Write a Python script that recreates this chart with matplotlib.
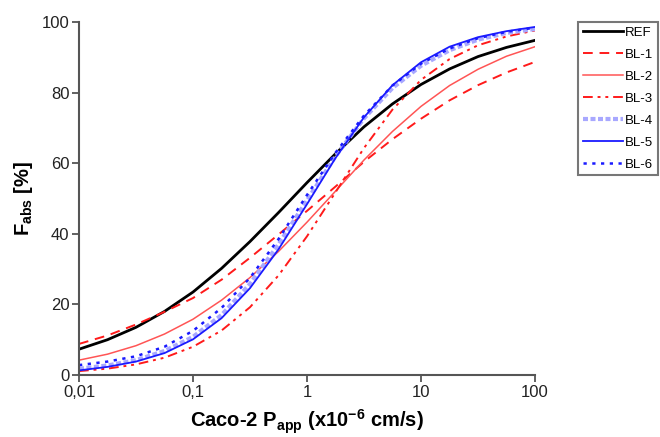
import matplotlib
matplotlib.use("Agg")
import matplotlib.pyplot as plt
from matplotlib.ticker import FixedLocator, NullLocator

plt.rcParams['font.family'] = ['Liberation Sans', 'DejaVu Sans']
plt.rcParams['mathtext.fontset'] = 'custom'
plt.rcParams['mathtext.rm'] = 'Liberation Sans:bold'
plt.rcParams['mathtext.bf'] = 'Liberation Sans:bold'
plt.rcParams['mathtext.it'] = 'Liberation Sans:bold'

# Caco-2 Papp (x1e-6 cm/s), quarter-decade points
papp = [0.01, 0.0178, 0.0316, 0.0562, 0.1, 0.178, 0.316, 0.562, 1.0,
        1.78, 3.16, 5.62, 10.0, 17.8, 31.6, 56.2, 100.0]

ref  = [7.3, 10.0, 13.5, 18.0, 23.5, 30.2, 37.8, 46.0, 54.5, 62.7, 70.3, 76.8, 82.3, 86.7, 90.2, 92.8, 94.8]
bl1  = [8.8, 11.2, 14.3, 17.9, 21.8, 27.0, 33.2, 39.8, 46.5, 53.4, 60.4, 66.8, 72.6, 77.8, 82.1, 85.7, 88.7]
bl2  = [4.2, 5.9, 8.3, 11.6, 15.8, 21.2, 27.6, 35.0, 43.3, 52.1, 60.9, 69.0, 76.1, 82.0, 86.6, 90.3, 93.0]
bl3  = [1.1, 1.8, 3.0, 4.9, 8.0, 12.6, 19.2, 28.2, 39.3, 51.8, 64.3, 75.2, 83.6, 89.5, 93.4, 95.9, 97.6]
bl4  = [1.8, 2.7, 4.2, 6.8, 10.8, 17.0, 25.8, 37.0, 49.5, 62.0, 72.7, 81.3, 87.6, 92.0, 95.0, 96.9, 98.0]
bl5  = [1.3, 2.3, 3.8, 6.2, 10.1, 16.1, 24.6, 35.6, 48.4, 61.5, 73.0, 82.1, 88.6, 93.0, 95.7, 97.4, 98.6]
bl6  = [2.8, 3.8, 5.3, 8.0, 12.5, 19.0, 27.5, 38.5, 51.0, 63.0, 73.5, 82.0, 88.2, 92.5, 95.4, 97.2, 98.4]

series_labels = ['REF', 'BL-1', 'BL-2', 'BL-3', 'BL-4', 'BL-5', 'BL-6']
x_ticks = [0.01, 0.1, 1, 10, 100]
x_ticklabels = ['0,01', '0,1', '1', '10', '100']
y_ticks = [0, 20, 40, 60, 80, 100]

fig = plt.figure(figsize=(6.6, 4.37), dpi=100)
ax = fig.add_axes([0.1197, 0.1419, 0.691, 0.8078])

styles = [
    dict(color='black', lw=2.0, ls='-'),
    dict(color='#ff1a1a', lw=1.4, ls=(0, (5, 3.5))),
    dict(color='#ff5555', lw=1.1, ls='-'),
    dict(color='#ff1a1a', lw=1.4, ls=(0, (5, 2.5, 1.5, 2.5, 1.5, 2.5))),
    dict(color='#a8a8ff', lw=3.0, ls=(0, (1.2, 0.6))),
    dict(color='#1a1aff', lw=1.3, ls='-'),
    dict(color='#1a1aff', lw=1.8, ls=(0, (1.3, 2.2))),
]
for data, lab, st in zip([ref, bl1, bl2, bl3, bl4, bl5, bl6], series_labels, styles):
    ax.plot(papp, data, label=lab, **st)

ax.set_xscale('log')
ax.set_xlim(0.01, 100)
ax.set_ylim(0, 100)
ax.xaxis.set_major_locator(FixedLocator(x_ticks))
ax.xaxis.set_minor_locator(NullLocator())
ax.set_xticklabels(x_ticklabels)
ax.set_yticks(y_ticks)
ax.tick_params(axis='both', direction='out', length=5, width=1.3, color='#555555',
               labelsize=12, pad=2, labelcolor='#222222')
for s in ['top', 'right']:
    ax.spines[s].set_visible(False)
for s in ['left', 'bottom']:
    ax.spines[s].set_linewidth(1.5)
    ax.spines[s].set_color('#555555')

ax.set_xlabel(r'Caco-2 P$_{\mathrm{app}}$ (x10$^{\mathrm{-6}}$ cm/s)', fontsize=14.5,
              fontweight='bold', labelpad=6)
ax.set_ylabel(r'F$_{\mathrm{abs}}$ [%]', fontsize=14.5, fontweight='bold', labelpad=5)

leg = ax.legend(loc='upper left', bbox_to_anchor=(1.095, 1.0), frameon=True, fancybox=False,
                fontsize=9.5, handlelength=3.0, handletextpad=0.2, labelspacing=0.74,
                borderpad=0.35, borderaxespad=0)
leg.get_frame().set_edgecolor('#555555')
leg.get_frame().set_linewidth(1.5)

fig.savefig('out.png', dpi=100)
